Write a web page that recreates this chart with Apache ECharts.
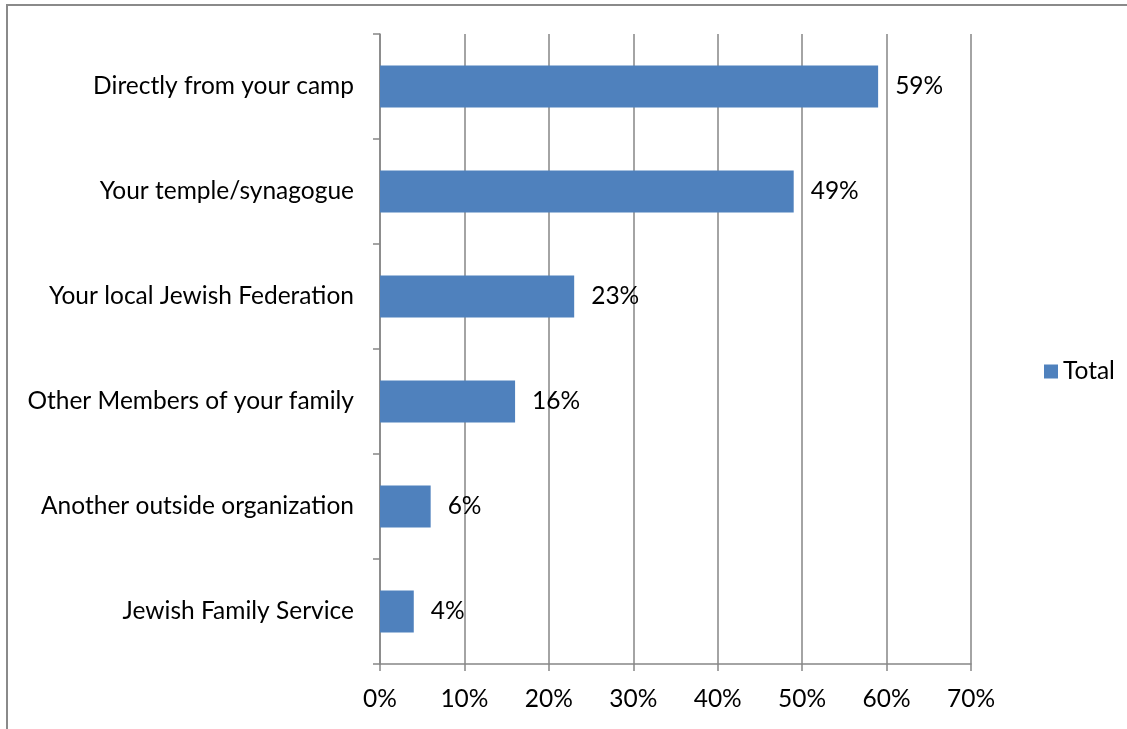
<!DOCTYPE html>
<html><head><meta charset="utf-8">
<script src="https://cdn.jsdelivr.net/npm/echarts@6/dist/echarts.min.js"></script>
<style>html,body{margin:0;padding:0;background:#fff}#c{width:1127px;height:729px}</style>
</head><body><div id="c"></div>
<script>
const categories = ["Directly from your camp","Your temple/synagogue","Your local Jewish Federation","Other Members of your family","Another outside organization","Jewish Family Service"];
const totalValues = [59,49,23,16,6,4];
const xTicks = [0,10,20,30,40,50,60,70];
const seriesName = "Total";
const font = "Lato, Open Sans, sans-serif";
const fs = 24.5;
const chart = echarts.init(document.getElementById('c'));
chart.setOption({
  animation:false,
  graphic:[{type:'rect',shape:{x:7,y:5,width:1300,height:900},style:{fill:'none',stroke:'#8a8a8a',lineWidth:2},silent:true}],
  legend:{data:[seriesName],left:1039,top:354,orient:'vertical',itemWidth:14,itemHeight:14,itemGap:6,
    textStyle:{fontSize:fs,color:'#000',fontFamily:font,padding:[4,0,0,0]},icon:'rect'},
  grid:{left:380,right:156,top:34,bottom:65},
  xAxis:{type:'value',min:xTicks[0],max:xTicks[xTicks.length-1],interval:10,
    axisLabel:{formatter:v=>v+'%',fontSize:fs,color:'#000',fontFamily:font,margin:23},
    axisLine:{show:true,lineStyle:{color:'#868686',width:1.5}},
    axisTick:{show:true,length:7,lineStyle:{color:'#868686',width:1.5}},
    splitLine:{show:true,lineStyle:{color:'#868686',width:1.5}}},
  yAxis:{type:'category',data:categories,inverse:true,
    axisLabel:{fontSize:fs,color:'#000',fontFamily:font,margin:26,padding:[5,0,0,0]},
    axisLine:{show:true,lineStyle:{color:'#868686',width:1.5}},
    axisTick:{show:true,length:7,alignWithLabel:false,lineStyle:{color:'#868686',width:1.5}},
    splitLine:{show:false}},
  series:[{name:seriesName,type:'bar',data:totalValues,barWidth:'40%',
    itemStyle:{color:'#4f81bd'},
    label:{show:true,position:'right',distance:17,padding:[5,0,0,0],formatter:p=>p.value+'%',fontSize:fs,color:'#000',fontFamily:font}}]
});
</script></body></html>
